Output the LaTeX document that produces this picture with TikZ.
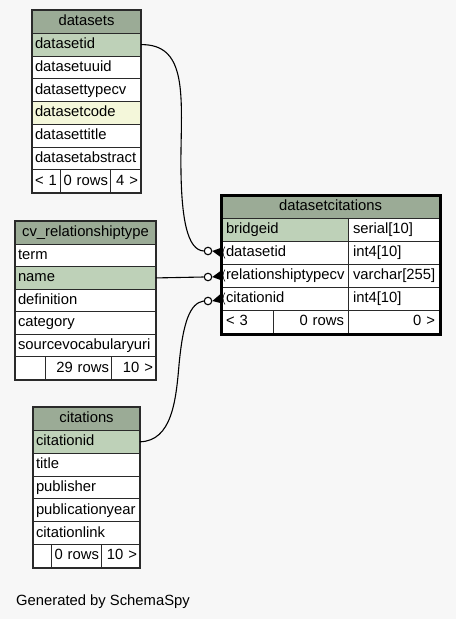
\documentclass[tikz,border=0pt]{standalone}
\usepackage{fontspec}
\setmainfont{Liberation Sans}
\definecolor{bg}{HTML}{F7F7F7}
\definecolor{hdr}{HTML}{9BAB96}
\definecolor{pk}{HTML}{BED1B8}
\definecolor{idx}{HTML}{F4F7DA}
\definecolor{grid}{HTML}{2A2A2A}
\begin{document}
\begin{tikzpicture}[x=1pt,y=-1pt,
  cell/.style={draw=grid, line width=1pt, fill=white, anchor=north west,
    inner xsep=2.5pt, inner ysep=0pt, text height=10.8pt, text depth=3pt,
    align=left, font=\fontsize{14.8}{17}\selectfont},
  hd/.style={cell, fill=hdr, align=center},
  pkc/.style={cell, fill=pk},
  ixc/.style={cell, fill=idx},
  rt/.style={align=right},
  ds/.style={text width=103pt, minimum height=22.75pt},
  cv/.style={text width=135pt, minimum height=22.57pt},
  ct/.style={text width=101pt, minimum height=22.86pt},
  dcr/.style={inner xsep=4.5pt, minimum height=23pt},
  outer/.style={draw=grid, line width=1.4pt},
  thick outer/.style={draw=black, line width=3pt},
  conn/.style={draw=black, line width=1.1pt},
  fk/.style={circle, draw=black, line width=1.1pt, fill=white, inner sep=0pt, minimum size=7.5pt},
  crow/.style={fill=black}
]
\useasboundingbox (0,0) rectangle (456,619);
\fill[bg] (0,0) rectangle (456,619);

% datasets
\node[hd,ds]  (ds-h) at (32,10) {datasets};
\node[pkc,ds] (ds-1) at (32,32.75) {datasetid};
\node[cell,ds] (ds-2) at (32,55.5) {datasetuuid};
\node[cell,ds] (ds-3) at (32,78.25) {datasettypecv};
\node[ixc,ds] (ds-4) at (32,101) {datasetcode};
\node[cell,ds] (ds-5) at (32,123.75) {datasettitle};
\node[cell,ds] (ds-6) at (32,146.5) {datasetabstract};
\node[cell,minimum height=22.75pt,text width=23pt] (ds-f1) at (32,169.25) {< 1};
\node[cell,rt,minimum height=22.75pt,text width=45pt] (ds-f2) at (60,169.25) {0 rows};
\node[cell,rt,minimum height=22.75pt,text width=25pt] (ds-f3) at (110,169.25) {4 >};
\draw[outer] (ds-h.north west) rectangle (ds-f3.south east);

% cv_relationshiptype
\node[hd,cv]  (cv-h) at (15,221) {cv\_relationshiptype};
\node[cell,cv] (cv-1) at (15,243.57) {term};
\node[pkc,cv] (cv-2) at (15,266.14) {name};
\node[cell,cv] (cv-3) at (15,288.71) {definition};
\node[cell,cv] (cv-4) at (15,311.28) {category};
\node[cell,cv] (cv-5) at (15,333.85) {sourcevocabularyuri};
\node[cell,minimum height=22.57pt,text width=25pt] (cv-f1) at (15,356.42) {};
\node[cell,rt,minimum height=22.57pt,text width=61pt] (cv-f2) at (45,356.42) {29 rows};
\node[cell,rt,minimum height=22.57pt,text width=39pt] (cv-f3) at (111,356.42) {10 >};
\draw[outer] (cv-h.north west) rectangle (cv-f3.south east);

% citations
\node[hd,ct]  (ct-h) at (33,407) {citations};
\node[pkc,ct] (ct-1) at (33,429.86) {citationid};
\node[cell,ct] (ct-2) at (33,452.71) {title};
\node[cell,ct] (ct-3) at (33,475.57) {publisher};
\node[cell,ct] (ct-4) at (33,498.43) {publicationyear};
\node[cell,ct] (ct-5) at (33,521.29) {citationlink};
\node[cell,minimum height=22.86pt,text width=13pt] (ct-f1) at (33,544.14) {};
\node[cell,rt,minimum height=22.86pt,text width=45pt] (ct-f2) at (51,544.14) {0 rows};
\node[cell,rt,minimum height=22.86pt,text width=33pt] (ct-f3) at (101,544.14) {10 >};
\draw[outer] (ct-h.north west) rectangle (ct-f3.south east);

% datasetcitations
\node[hd,dcr,text width=209pt] (dc-h) at (221,195) {datasetcitations};
\node[pkc,dcr,text width=118pt] (dc-1a) at (221,218) {bridgeid};
\node[cell,dcr,text width=82pt] (dc-1b) at (348,218) {serial[10]};
\node[cell,dcr,text width=118pt] (dc-2a) at (221,241) {datasetid};
\node[cell,dcr,text width=82pt] (dc-2b) at (348,241) {int4[10]};
\node[cell,dcr,text width=118pt] (dc-3a) at (221,264) {relationshiptypecv};
\node[cell,dcr,text width=82pt] (dc-3b) at (348,264) {varchar[255]};
\node[cell,dcr,text width=118pt] (dc-4a) at (221,287) {citationid};
\node[cell,dcr,text width=82pt] (dc-4b) at (348,287) {int4[10]};
\node[cell,dcr,text width=43pt] (dc-f1) at (221,310) {< 3};
\node[cell,dcr,rt,text width=66pt] (dc-f2) at (273,310) {0 rows};
\node[cell,dcr,rt,text width=82pt] (dc-f3) at (348,310) {0 >};
\draw[thick outer] (dc-h.north west) rectangle (dc-f3.south east);

% connectors
\node[fk] (o1) at (208,251) {};
\node[fk] (o2) at (208,277) {};
\node[fk] (o3) at (208,301) {};

\draw[conn] (ds-1.east) .. controls (185,44) and (182,90) .. (181,150)
  .. controls (180,222) and (188,250) .. (o1.west);
\draw[conn] (cv-2.east) -- (o2.west);
\draw[conn] (ct-1.east) .. controls (172,441) and (176,400) .. (179,365)
  .. controls (183,322) and (190,303) .. (o3.west);

\fill[crow] (o1.east) -- (220.5,248) -- (220.5,257) -- cycle;
\fill[crow] (o2.east) -- (220.5,271) -- (220.5,280) -- cycle;
\fill[crow] (o3.east) -- (220.5,294) -- (220.5,303) -- cycle;
\draw[line width=0.5pt] (225,246.5) .. controls (222.5,250) and (222.5,255) .. (225,258.5);
\draw[line width=0.5pt] (225,269.5) .. controls (222.5,273) and (222.5,278) .. (225,281.5);
\draw[line width=0.5pt] (225,292.5) .. controls (222.5,296) and (222.5,301) .. (225,304.5);

\node[anchor=west, inner sep=0pt, font=\fontsize{14.8}{17}\selectfont] (gen) at (16,602) {Generated by SchemaSpy};
\end{tikzpicture}
\end{document}
